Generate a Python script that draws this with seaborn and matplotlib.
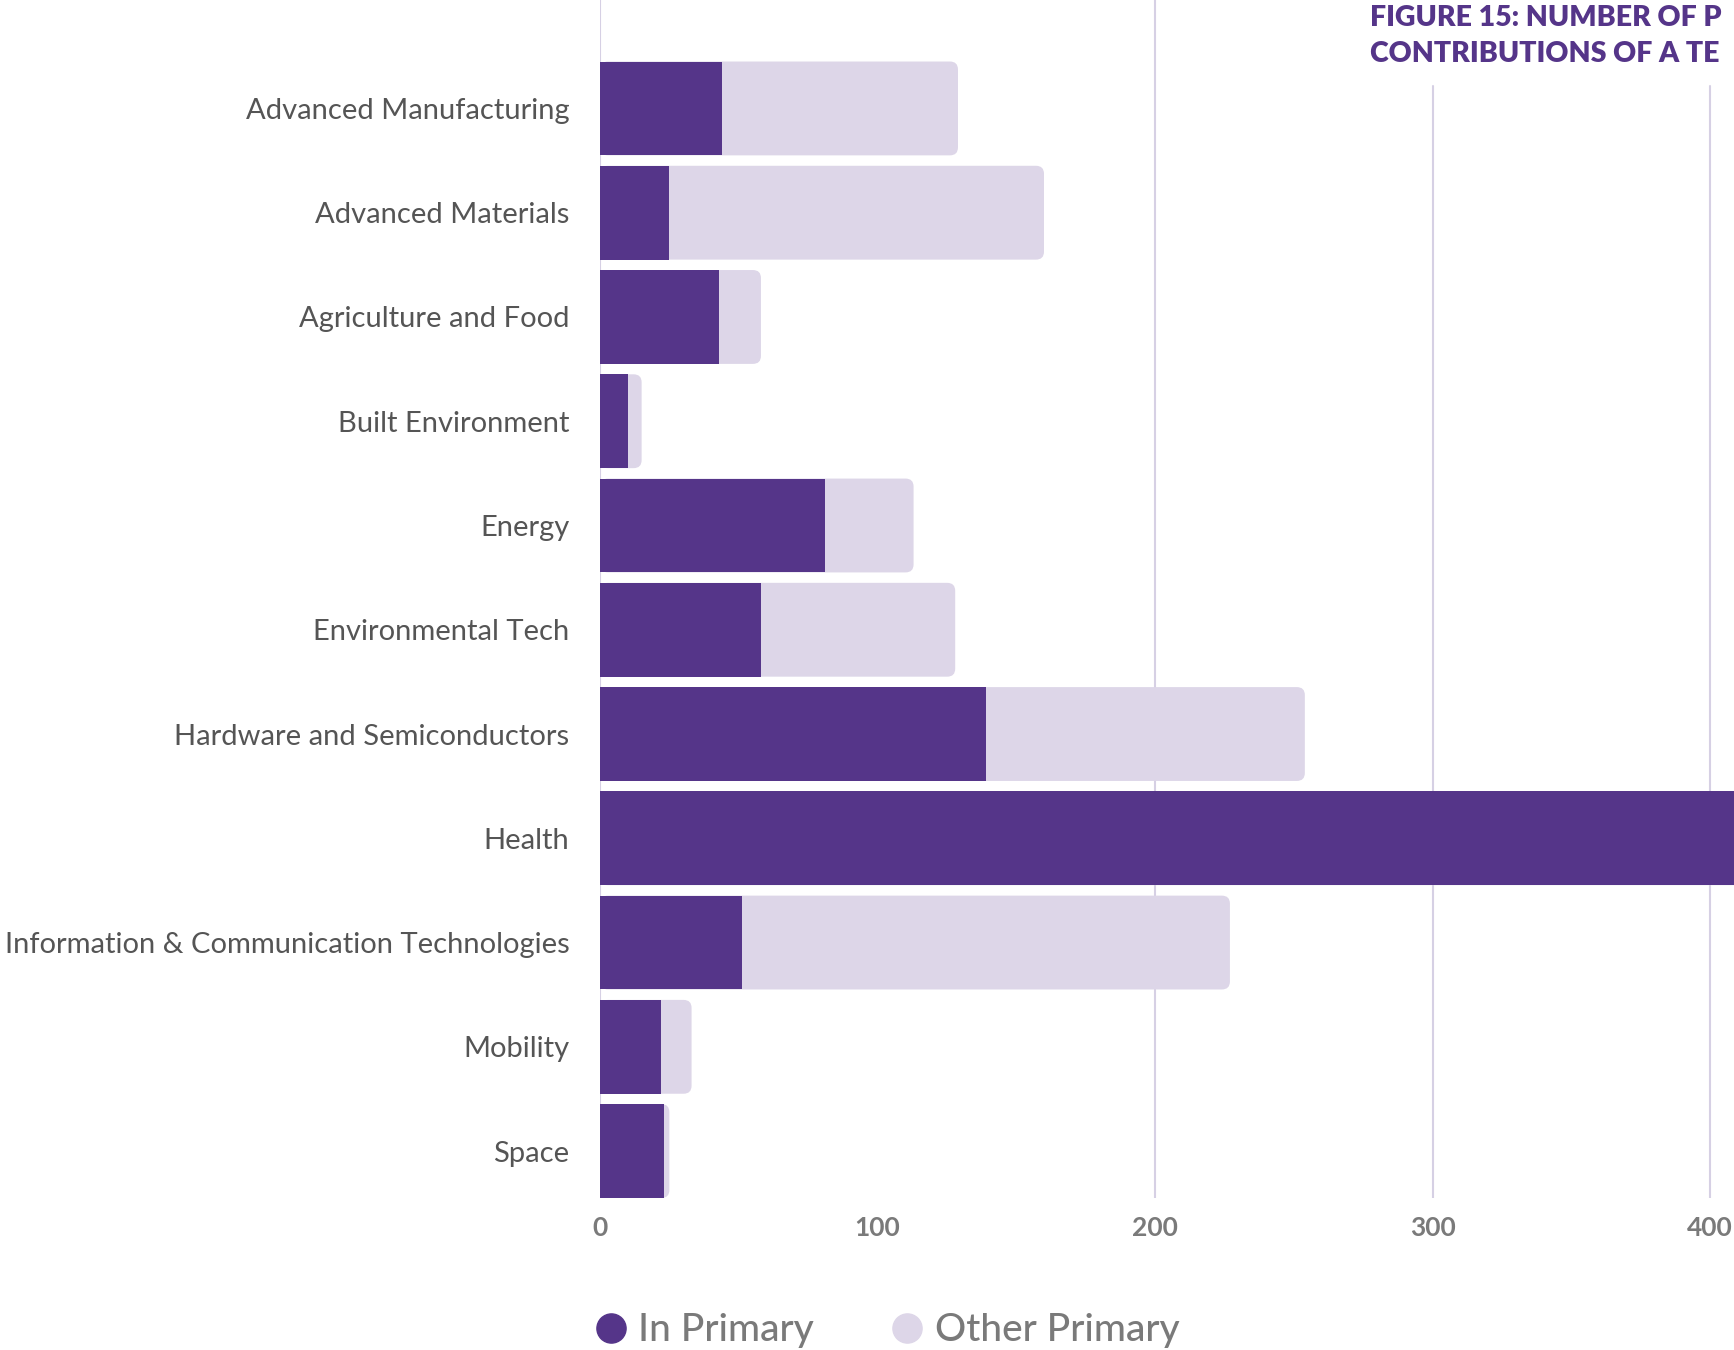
import matplotlib
matplotlib.use("Agg")
import matplotlib.pyplot as plt
from matplotlib.lines import Line2D
from matplotlib.patches import FancyBboxPatch
import pandas as pd
import seaborn as sns

# ── data ──────────────────────────────────────────────────────────────────
sectors = [
    "Advanced Manufacturing",
    "Advanced Materials",
    "Agriculture and Food",
    "Built Environment",
    "Energy",
    "Environmental Tech",
    "Hardware and Semiconductors",
    "Health",
    "Information & Communication Technologies",
    "Mobility",
    "Space",
]
in_primary = [44, 25, 43, 10, 81, 58, 139, 480, 51, 22, 23]
other_primary = [85, 135, 15, 5, 32, 70, 115, 40, 176, 11, 2]
x_ticks = [0, 100, 200, 300, 400]
grid_values = [200, 300, 400]

PURPLE = "#553589"
LIGHT = "#DDD6E8"
GRID = "#D6D0E4"
LABEL_GREY = "#555555"
TICK_GREY = "#7a7a7a"

df = pd.DataFrame({"sector": sectors, "in_primary": in_primary,
                   "other_primary": other_primary})
df["total"] = df["in_primary"] + df["other_primary"]

sns.set_theme(style="white")
plt.rcParams["font.family"] = ["Lato", "DejaVu Sans"]

W, H = 1734, 1350
fig = plt.figure(figsize=(W / 100, H / 100), dpi=100)
ax = fig.add_axes([600 / W, 1 - 1198 / H, 1 - 600 / W, 1198 / H])

# stacked: light total first, purple "in primary" on top
sns.barplot(data=df, y="sector", x="total", color=LIGHT, width=0.9,
            orient="h", ax=ax, saturation=1, linewidth=0, zorder=2)
n = len(ax.patches)
sns.barplot(data=df, y="sector", x="in_primary", color=PURPLE, width=0.9,
            orient="h", ax=ax, saturation=1, linewidth=0, zorder=3)

ax.set_xlim(0, (W - 600) / 277.5 * 100)
ax.set_ylim(10.45, -1.04)

# give the light bars slightly rounded ends
r_x = 8 * 100 / 277.5
r_y = 8 / 104.3
for p in ax.patches[:n]:
    rb = FancyBboxPatch((p.get_x(), p.get_y()), p.get_width(), p.get_height(),
                        boxstyle=f"round,pad=0,rounding_size={r_x}",
                        mutation_aspect=r_y / r_x, facecolor=LIGHT,
                        edgecolor="none", zorder=2)
    ax.add_patch(rb)
    p.set_visible(False)

# gridlines: 200 runs full height, 300/400 stop under the title
ax.axvline(0, color=GRID, lw=1.5, zorder=1)
for g in grid_values:
    top = 1.0 if g == 200 else 1 - 86 / 1198
    ax.axvline(g, ymin=0, ymax=top, color=GRID, lw=1.5, zorder=1)

for s in ax.spines.values():
    s.set_visible(False)

ax.set_xticks(x_ticks)
ax.set_xticklabels([str(t) for t in x_ticks], fontsize=19, fontweight="bold",
                   color=TICK_GREY)
ax.tick_params(axis="x", length=0, pad=13)
ax.tick_params(axis="y", length=0, pad=22, labelsize=21, labelcolor=LABEL_GREY)
ax.set_xlabel("")
ax.set_ylabel("")

# title as far as it shows in the cropped original
fig.text(1370 / W, 1 - 5 / H, "FIGURE 15: NUMBER OF P\nCONTRIBUTIONS OF A TE",
         ha="left", va="top", fontsize=20.5, fontweight="heavy", color=PURPLE,
         linespacing=1.5)

handles = [
    Line2D([], [], ls="", marker="o", markersize=21, color=PURPLE),
    Line2D([], [], ls="", marker="o", markersize=21, color=LIGHT),
]
leg = fig.legend(handles, ["In Primary", "Other Primary"], loc="center left",
                 bbox_to_anchor=(576 / W, 1 - 1331 / H), ncol=2, frameon=False,
                 fontsize=28, handletextpad=0.2, columnspacing=1.9,
                 handlelength=1.0, borderaxespad=0)
for t in leg.get_texts():
    t.set_color(TICK_GREY)
    t.set_fontweight("medium")

fig.savefig("out.png", dpi=100)
